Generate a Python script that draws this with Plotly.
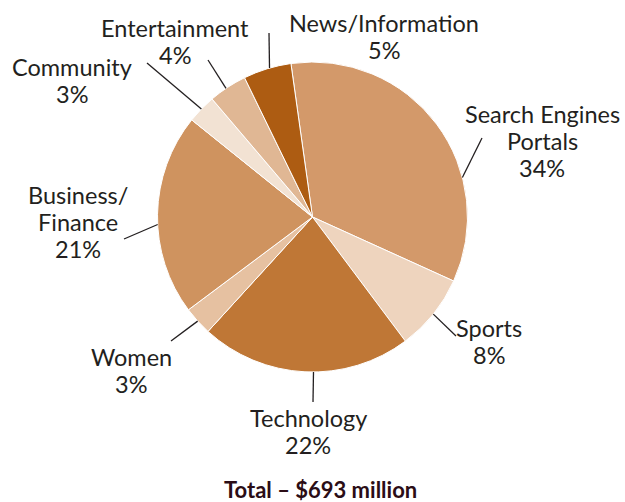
import math
import plotly.graph_objects as go

# Share of revenue by site category
categories = ["Search Engines Portals", "Sports", "Technology", "Women",
              "Business/Finance", "Community", "Entertainment", "News/Information"]
shares = [34, 8, 22, 3, 21, 3, 4, 5]
label_lines = [
    ["Search Engines", "Portals", "34%"],
    ["Sports", "8%"],
    ["Technology", "22%"],
    ["Women", "3%"],
    ["Business/", "Finance", "21%"],
    ["Community", "3%"],
    ["Entertainment", "4%"],
    ["News/Information", "5%"],
]
colors = ["#D3996A", "#EED4BE", "#BF7736", "#E6C1A1",
          "#CF935F", "#F2E2D3", "#E0B794", "#AD5C12"]

W, H = 625, 502
CX, CY, R = 312.5, 217, 155
ROTATION = -8
LINE_GAP = 27

# label layout: text centre (px), leader outer end (px), position of leader inside slice
label_pos = [(542, 114), (489, 328), (308, 418), (131, 357),
             (78, 195), (72, 67), (175, 28), (384, 23)]
leader_end = [(482, 138), (456, 336), (313, 402), (171, 341),
              (124, 239), (147, 63), (208, 60), (269, 33)]
leader_frac = [0.68, 0.5, 0.46, 0.5, 0.45, 0.5, 0.45, 0.55]


def px(x, y):
    return x / W, 1 - y / H


fig = go.Figure(go.Pie(
    labels=categories, values=shares, sort=False, direction="clockwise",
    rotation=ROTATION, textinfo="none", hole=0,
    marker=dict(colors=colors, line=dict(color="white", width=1)),
    domain=dict(x=[(CX - R) / W, (CX + R) / W],
                y=[1 - (CY + R) / H, 1 - (CY - R) / H]),
    showlegend=False,
))

total = sum(shares)
start = ROTATION
shapes, annotations = [], []
for i, v in enumerate(shares):
    span = 360 * v / total
    ang = math.radians(start + span * leader_frac[i])
    start += span
    x0, y0 = CX + R * math.sin(ang), CY - R * math.cos(ang)
    x1, y1 = leader_end[i]
    a0, b0 = px(x0, y0)
    a1, b1 = px(x1, y1)
    shapes.append(dict(type="line", xref="paper", yref="paper",
                       x0=a0, y0=b0, x1=a1, y1=b1,
                       line=dict(color="#231F20", width=1.3)))
    lx, ly = label_pos[i]
    for k, line in enumerate(label_lines[i]):
        ax, ay = px(lx, ly + k * LINE_GAP)
        annotations.append(dict(text=line, x=ax, y=ay, xref="paper", yref="paper",
                                showarrow=False, xanchor="center", yanchor="middle",
                                font=dict(family="Lato", size=23.5, color="#231F20")))

tx, ty = px(321, 489)
annotations.append(dict(text="<b>Total – $693 million</b>", x=tx, y=ty,
                        xref="paper", yref="paper", showarrow=False,
                        xanchor="center", yanchor="middle",
                        font=dict(family="Lato", size=22, color="#2B0D16")))

fig.update_layout(width=W, height=H, margin=dict(l=0, r=0, t=0, b=0),
                  paper_bgcolor="white", plot_bgcolor="white",
                  shapes=shapes, annotations=annotations)
fig.write_html("out.html")
